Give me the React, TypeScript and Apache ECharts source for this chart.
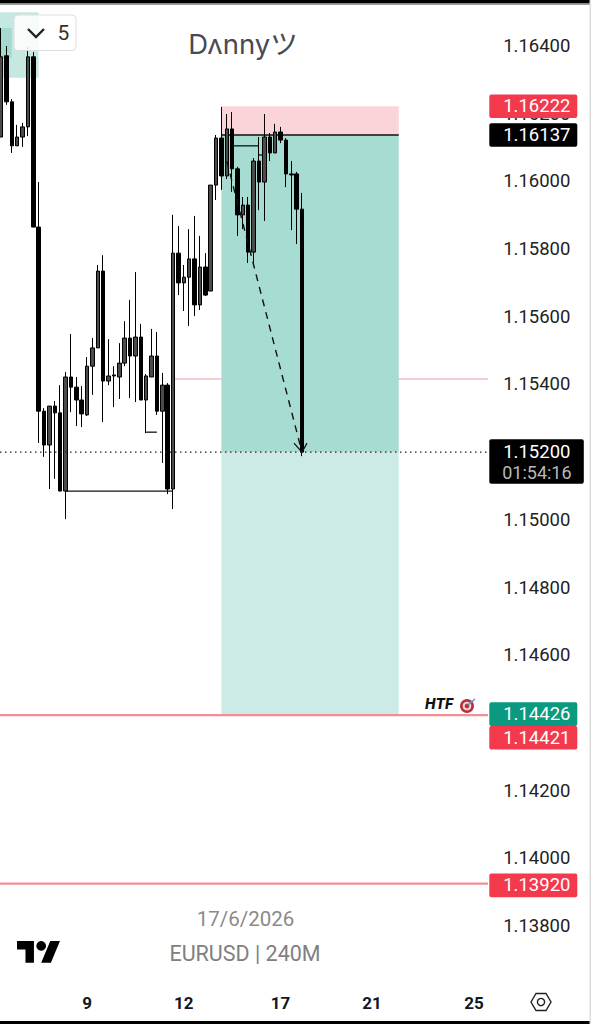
import React, { useEffect, useRef } from "react";
import * as echarts from "echarts";

const priceTicks = [1.138, 1.14, 1.142, 1.146, 1.148, 1.15, 1.154, 1.156, 1.158, 1.16, 1.162, 1.164];
const dayTickIndex = [16, 34, 52, 69, 88];
const dayTickLabel = ["9", "12", "17", "21", "25"];
const barSlots = 91;

const opens = [1.16131,1.16371,1.16235,1.16105,1.16131,1.16161,1.16368,1.15865,1.15321,1.15221,1.15336,1.15316,1.15085,1.15422,1.15392,1.15354,1.1531,1.15454,1.15508,1.15735,1.1541,1.15425,1.15422,1.15463,1.15537,1.15484,1.1554,1.15354,1.15422,1.15484,1.15321,1.15398,1.15091,1.15788,1.157,1.15717,1.15771,1.15635,1.15747,1.15676,1.15989,1.16128,1.16016,1.16155,1.16037,1.15901,1.1593,1.15791,1.1606,1.15998,1.16131,1.16084,1.16146,1.16122,1.16022,1.16022,1.15918];
const closes = [1.16368,1.16235,1.16105,1.16131,1.16161,1.16368,1.15865,1.15321,1.15221,1.15336,1.15316,1.15085,1.15422,1.15392,1.15354,1.15313,1.15454,1.15508,1.15735,1.1541,1.15425,1.15428,1.15463,1.15537,1.15484,1.1554,1.15354,1.15425,1.15484,1.15321,1.15398,1.15091,1.15788,1.157,1.15717,1.15771,1.15635,1.15747,1.15664,1.15989,1.16128,1.16016,1.16155,1.16037,1.15901,1.1593,1.15791,1.1606,1.15998,1.16131,1.16084,1.16146,1.16122,1.16022,1.16019,1.15918,1.152];
const lows = [1.16131,1.16226,1.16084,1.16105,1.16102,1.16134,1.15865,1.15227,1.15186,1.15091,1.15121,1.15085,1.15002,1.15318,1.15277,1.15274,1.15307,1.15369,1.15508,1.15289,1.15398,1.15333,1.15357,1.15454,1.1536,1.15348,1.15354,1.15256,1.15422,1.1531,1.15168,1.15076,1.15032,1.15664,1.15617,1.15573,1.15602,1.1562,1.15661,1.15676,1.15945,1.15975,1.16007,1.15969,1.15839,1.15859,1.15759,1.1575,1.15915,1.15883,1.1606,1.16084,1.16113,1.15983,1.15856,1.15815,1.15188];
const highs = [1.16453,1.164,1.16243,1.16167,1.16173,1.16397,1.16382,1.15998,1.1533,1.15336,1.15351,1.15398,1.15437,1.15549,1.15422,1.15395,1.15481,1.15537,1.15753,1.15782,1.15534,1.15454,1.15522,1.15587,1.1565,1.15732,1.15579,1.15431,1.15564,1.15555,1.15434,1.15404,1.15901,1.15868,1.15753,1.15859,1.15898,1.15839,1.15788,1.15989,1.16137,1.1622,1.16199,1.16205,1.16043,1.15954,1.15954,1.16069,1.16131,1.16199,1.16143,1.1617,1.16161,1.16128,1.1606,1.16028,1.15966];

// zones: [from bar, to bar, upper price, lower price]
const zoneRisk = [41, 74, 1.16222, 1.16137];
const zoneReached = [41, 74, 1.16137, 1.152];
const zoneTarget = [41, 74, 1.152, 1.14426];
const zoneOldLight = [0, 7, 1.165, 1.16306];
const zoneOldDark = [0, 2, 1.16453, 1.16365];

// price levels: [from bar, price]
const levelSoft = [32, 1.15416];
const levelStrongA = [0, 1.14423];
const levelStrongB = [0, 1.13925];
const levelLast = [0, 1.152];

// short drawn segments: [from bar, to bar, price]
const segments = [
  [12, 32, 1.15085],
  [27, 29, 1.15259],
  [43, 48, 1.16105],
  [48, 49, 1.16078],
  [41, 74, 1.16137],
];
const forecast = [42, 1.1606, 56, 1.152];

const tagPrices = [1.16222, 1.16137, 1.152, 1.14426, 1.14421, 1.1392];
const tagKinds = ["red", "black", "last", "green", "red", "red"];
const countdown = "01:54:16";

const FONT = "Roboto, 'Noto Sans', sans-serif";
const tagFill: Record<string, string> = { red: "#f23a4c", black: "#000000", last: "#000000", green: "#0b9a80" };

const rectItem = (fill: string) => (params: any, api: any) => {
  const a = api.coord([api.value(0), api.value(2)]);
  const b = api.coord([api.value(1), api.value(3)]);
  const x0 = api.value(0) === 0 ? 0 : a[0];
  return { type: "rect", shape: { x: x0, y: a[1], width: b[0] - x0, height: b[1] - a[1] }, style: { fill } };
};
const zoneSeries = (data: number[], fill: string, z: number) => ({
  type: "custom", z, silent: true, clip: false, encode: { x: [0, 1], y: [2, 3] },
  renderItem: rectItem(fill), data: [data],
});
const plotRight = (params: any) => params.coordSys.x + params.coordSys.width + 3.25;
const levelSeries = (data: number[], stroke: string, lineWidth: number, z: number, lineDash?: number[]) => ({
  type: "custom", z, silent: true, clip: false, encode: { x: 0, y: 1 },
  renderItem: (params: any, api: any) => {
    const p = api.coord([api.value(0), api.value(1)]);
    const x0 = api.value(0) === 0 ? 0 : p[0];
    return {
      type: "line",
      shape: { x1: x0, y1: p[1], x2: plotRight(params), y2: p[1] },
      style: { stroke, lineWidth, lineDash },
    };
  },
  data: [data],
});

function buildOption() {
  const candles = opens.map((o, i) => [o, closes[i], lows[i], highs[i]]);
  return {
    animation: false,
    backgroundColor: "#ffffff",
    grid: { left: 1, top: 12.15, width: 483.75, height: 981.5, containLabel: false },
    xAxis: {
      type: "category",
      boundaryGap: false,
      data: Array.from({ length: barSlots }, (_, i) => {
        const k = dayTickIndex.indexOf(i);
        return k >= 0 ? dayTickLabel[k] : "";
      }),
      axisLine: { show: false },
      axisTick: { show: false },
      splitLine: { show: false },
      axisLabel: {
        interval: (i: number) => dayTickIndex.includes(i),
        color: "#131722", fontFamily: FONT, fontSize: 17, fontWeight: 700, margin: 1,
      },
    },
    yAxis: {
      type: "value", position: "right", min: 1.136, max: 1.165, interval: 0.002,
      axisLine: { show: false }, axisTick: { show: false }, splitLine: { show: false },
      axisLabel: {
        margin: 18.4, color: "#222222", fontFamily: FONT, fontSize: 18.5,
        formatter: (v: number) => (priceTicks.some((t) => Math.abs(t - v) < 1e-6) ? v.toFixed(5) : ""),
      },
    },
    series: [
      levelSeries(levelSoft, "#f6bcc2", 1.5, 1),
      zoneSeries(zoneOldLight, "#c5e8e2", 2),
      zoneSeries(zoneOldDark, "#a4d9d0", 2),
      zoneSeries(zoneRisk, "#fad4d9", 2),
      zoneSeries(zoneReached, "#a7dcd3", 2),
      zoneSeries(zoneTarget, "#cdebe6", 2),
      levelSeries(levelStrongA, "#f28e96", 2.4, 3),
      levelSeries(levelStrongB, "#f28e96", 2.4, 3),
      {
        type: "candlestick", z: 5, barWidth: 4, clip: false, data: candles,
        itemStyle: { color: "#4b4b4b", color0: "#000000", borderColor: "#000000", borderColor0: "#000000", borderColorDoji: "#000000", borderWidth: 1 },
      },
      {
        type: "custom", z: 4, silent: true, encode: { x: [0, 1], y: 2 },
        renderItem: (_: any, api: any) => {
          const a = api.coord([api.value(0), api.value(2)]);
          const b = api.coord([api.value(1), api.value(2)]);
          return { type: "line", shape: { x1: a[0], y1: a[1], x2: b[0], y2: b[1] }, style: { stroke: "#111111", lineWidth: 1.3 } };
        },
        data: segments,
      },
      {
        type: "custom", z: 6, silent: true, encode: { x: [0, 2], y: [1, 3] },
        renderItem: (_: any, api: any) => {
          const a = api.coord([api.value(0), api.value(1)]);
          const b = api.coord([api.value(2), api.value(3)]);
          return {
            type: "group",
            children: [
              { type: "line", shape: { x1: a[0], y1: a[1], x2: b[0], y2: b[1] }, style: { stroke: "#111111", lineWidth: 1.4, lineDash: [7, 6] } },
              { type: "polyline", shape: { points: [[b[0] - 8, b[1] - 9], [b[0], b[1]], [b[0] + 5, b[1] - 9]] }, style: { stroke: "#111111", lineWidth: 1.2, fill: "none" } },
            ],
          };
        },
        data: [forecast],
      },
      levelSeries(levelLast, "#222222", 1.2, 7, [1.5, 3.5]),
      {
        type: "custom", z: 20, silent: true, clip: false, encode: { y: 0 },
        renderItem: (params: any, api: any) => {
          const i = params.dataIndex;
          const kind = tagKinds[i];
          const right = plotRight(params);
          let cy = api.coord([0, api.value(0)])[1];
          if (i === 4) cy += 22;
          const tall = kind === "last";
          const left = right + 1.3;
          const children: any[] = [
            {
              type: "rect",
              shape: { x: left, y: tall ? cy - 13 : cy - 11.8, width: tall ? 94.5 : 88, height: tall ? 44.5 : 23.6, r: 2 },
              style: { fill: tagFill[kind] },
            },
            {
              type: "text",
              style: { text: api.value(0).toFixed(5), x: right + 15.2, y: cy, fill: "#ffffff", fontFamily: FONT, fontSize: 18.5, align: "left", verticalAlign: "middle" },
            },
          ];
          if (tall) {
            children.push({
              type: "text",
              style: { text: countdown, x: right + 14.2, y: cy + 20, fill: "#b8b8b8", fontFamily: FONT, fontSize: 18, align: "left", verticalAlign: "middle" },
            });
          }
          return { type: "group", children };
        },
        data: tagPrices.map((p) => [p]),
      },
    ],
    graphic: [
      { type: "rect", z: 30, silent: true, shape: { x: 0, y: 0, width: 591, height: 3.5 }, style: { fill: "#000000" } },
      { type: "rect", z: 30, silent: true, shape: { x: 0, y: 3.5, width: 591, height: 1.5 }, style: { fill: "#9a9a9a" } },
      { type: "rect", z: 30, silent: true, shape: { x: 0, y: 1021, width: 591, height: 3 }, style: { fill: "#000000" } },
      { type: "rect", z: 30, silent: true, shape: { x: 589.5, y: 0, width: 1.5, height: 1024 }, style: { fill: "#dcdcdc" } },
      {
        type: "rect", z: 30, silent: true,
        shape: { x: 14, y: 15, width: 62, height: 35.5, r: 4 },
        style: { fill: "rgba(255,255,255,0.86)", stroke: "#dedede", lineWidth: 1 },
      },
      { type: "polyline", z: 31, silent: true, shape: { points: [[28, 29], [36, 37], [44, 29]] }, style: { stroke: "#222222", lineWidth: 2.4, fill: "none" } },
      { type: "text", z: 31, silent: true, style: { text: "5", x: 63.5, y: 33, fill: "#333333", fontFamily: FONT, fontSize: 21, align: "center", verticalAlign: "middle" } },
      { type: "text", z: 31, silent: true, style: { text: "Dʌnnyツ", x: 243, y: 44, fill: "#474a52", fontFamily: "Inter, 'Noto Sans CJK JP', sans-serif", fontSize: 27.5, align: "center", verticalAlign: "middle" } },
      { type: "text", z: 31, silent: true, style: { text: "17/6/2026", x: 245.5, y: 919, fill: "#8a8a8a", fontFamily: FONT, fontSize: 20.5, align: "center", verticalAlign: "middle" } },
      { type: "text", z: 31, silent: true, style: { text: "EURUSD | 240M", x: 245, y: 953, fill: "#808080", fontFamily: FONT, fontSize: 21.5, align: "center", verticalAlign: "middle" } },
      { type: "tvlogo", z: 31, silent: true, x: 17, y: 936.2, scaleX: 1.21, scaleY: 1.21, style: { fill: "#000000" } },
      { type: "circle", z: 31, silent: true, shape: { cx: 41.2, cy: 945.9, r: 4.8 }, style: { fill: "#000000" } },
      { type: "polygon", z: 31, silent: true, shape: { points: [[531, 1002], [536, 993.5], [546, 993.5], [551, 1002], [546, 1010.5], [536, 1010.5]] }, style: { stroke: "#222222", lineWidth: 1.4, fill: "none" } },
      { type: "circle", z: 31, silent: true, shape: { cx: 541, cy: 1002, r: 3.6 }, style: { stroke: "#222222", lineWidth: 1.4, fill: "none" } },
      { type: "text", z: 31, silent: true, style: { text: "HTF", x: 425, y: 703.5, fill: "#111111", fontFamily: "Inter, sans-serif", fontSize: 14, fontWeight: 800, fontStyle: "italic", align: "left", verticalAlign: "middle" } },
      { type: "circle", z: 31, silent: true, shape: { cx: 467, cy: 706, r: 7 }, style: { fill: "#b8343c" } },
      { type: "circle", z: 31, silent: true, shape: { cx: 467, cy: 706, r: 4.3 }, style: { fill: "#f0d8d8" } },
      { type: "circle", z: 31, silent: true, shape: { cx: 467, cy: 706, r: 2.4 }, style: { fill: "#b8343c" } },
      { type: "line", z: 31, silent: true, shape: { x1: 468, y1: 705, x2: 475, y2: 699 }, style: { stroke: "#4f9fc0", lineWidth: 1.6 } },
    ],
  };
}

echarts.graphic.registerShape(
  "tvlogo",
  echarts.graphic.extendPath("M14 22H7V11H0V4h14v18zM28 22h-8l7.5-18h8L28 22z", {}) as any
);

export default function App() {
  const ref = useRef<HTMLDivElement>(null);
  useEffect(() => {
    const chart = echarts.init(ref.current!, undefined, { renderer: "svg" });
    chart.setOption(buildOption() as any);
    return () => chart.dispose();
  }, []);
  return <div ref={ref} style={{ position: "fixed", left: 0, top: 0, width: 591, height: 1024, background: "#fff" }} />;
}
